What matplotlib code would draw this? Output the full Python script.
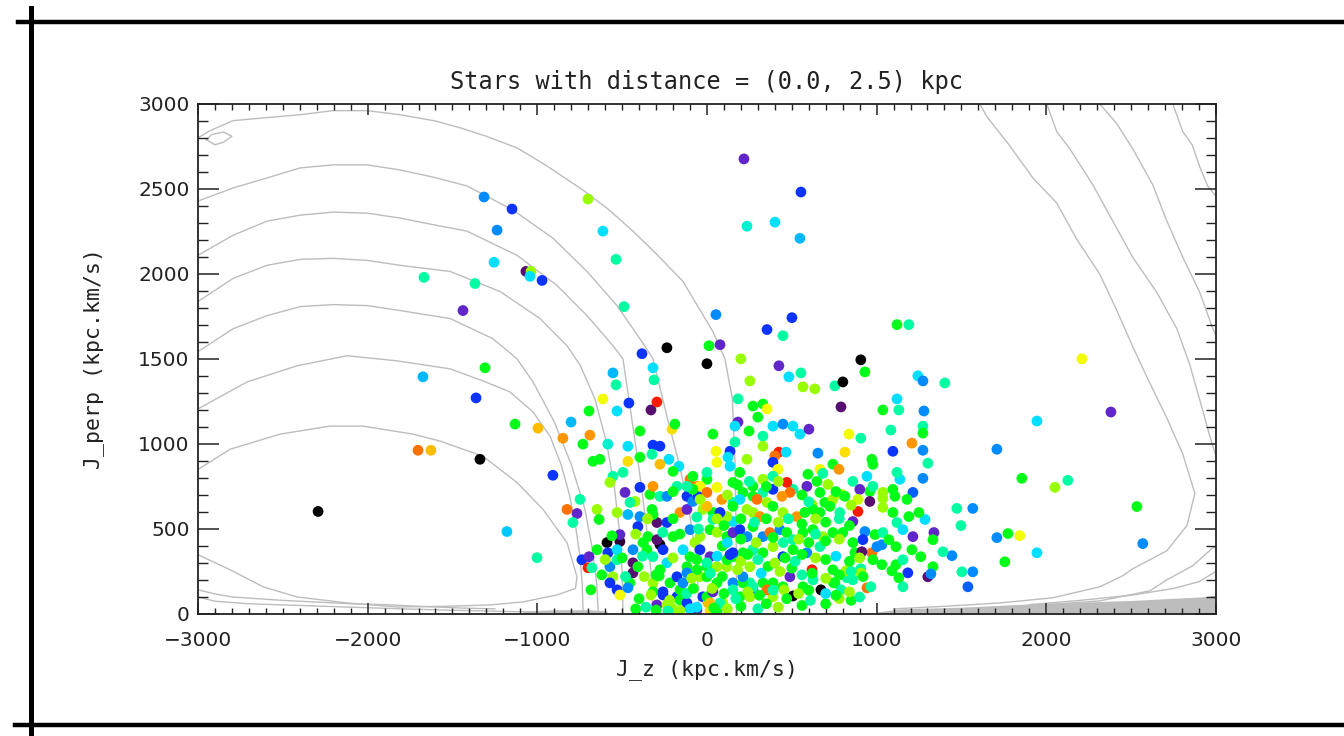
import matplotlib
matplotlib.use("Agg")
import matplotlib.pyplot as plt
from matplotlib.colors import LinearSegmentedColormap
from matplotlib.ticker import MultipleLocator
from matplotlib.lines import Line2D

# ---- stars: J_z, J_perp (kpc km/s) and colour value (0 = black ... 12 = red)
jz = [218, 554, 236, 401, 548, -1314, -1149, -701, -1237, -613, -1255, -536, -1067, -1037, -1043,
      -972, -1668, -1367, -1438, -489, 53, 501, 354, 448, 1120, 1190, 12, 77, 200, 0, 907, 424,
      2210, -236, -383, -318, -554, -312, -536, 483, 554, 253, 566, 636, 754, 801, 931, 1243, 1273,
      1402, 1120, 1037, 1131, 1279, 790, 1273, 1273, 1084, 837, 1208, 907, 1096, 1273, 1302, 1709,
      1273, 1214, 1473, 1567, 1497, 1709, 1444, 1503, 1567, 1538, 1338, 1214, 1332, 1391, 1332,
      1302, 1320, 1184, 1114, 1031, 1285, 972, 978, 860, 960, 901, 960, 890, 1037, 1108, 795, 890,
      860, 931, 919, 990, 872, 972, 913, 943, 825, 672, 507, 619,
      2381, 1945, 1856, 2051, 2127, 2534, 1774, 1844, 2569, 1945, 1756,
      -2292, -1703, -1627, -1338, -1674, -1308, -1361, -1131, -996, -908, -1179, -1002, -849, -801,
      -690, -731, -695, -613, -530, -460, -330, -295, -672, -584, -466, -395, -466, -395, -318, -277,
      -324, -206, -189, -224, -165, -277, -200, -631, -554, -495, -572, -483, -395, -336, -318, -277,
      -236, -177, -424, -454, -748, -825, -766, -790, -648, -636, -530, -466, -395, -407, -324, -295,
      -318, -236, -159, -118, -118, -83, -100, -53, -53, 0, 59, 88, -24, 35, 153, 212, 153, 236, 271,
      -589, -513, -513, -648, -584, -737, -695, -701, -678, -684, -572, -530, -554, -572, -530, -513,
      -436, -436, -407, -454, -466, -530, -436, -377, -348, -277, -295, -354, -318, -259, -236, -277,
      -318, -318, -259, -218, -177, -295, -236, -177, -159, -141, -118, -100, -71, -141, -200, -100,
      -41, 18, -41, 18, 0, -41, -24, 6, 59, 118, 153, 153, 194, 94, 253, 253, 271, 153, 118,
      271, 330, 354, 300, 248, 183, 183, 35, 53, 136, 124, 165, 165, 330, 330, 389, 448, 507, 548,
      601, 424, 400, 466, 389, 418, 654, 813, 742, 778, 666, 595, 589, 648, 683, 713, 666, 695, 742,
      813, 619, 507, 471, 489, 442, 389, 330, 354, 295, 271, 312, 389, 448, 530, 577, 625, 666, 725,
      783, 194, 153, 118, 77, 35, 0, -41, 0, -83, -41, -118, -83, 0, 59, 136, 194, 236, 271, 330,
      389, 153, 194, 236, 271, 330, 371, 430, 471, 507, 566, 625, 683, 742, 801, 666, 589, 507, 448,
      389, 330, 271, 212, 153, 118, 59, 0, -59, -118, -159, -206, -118, -59, 0, 59, 153, 212, 271,
      330, 389, 448, 566, 625, 742, 754, 860, 907, 978, -300, -230, -100, 18, -330, -282, -259,
      1031, 966, 907, 746, 454, 389, 354, 489, 253, 271, 212, 136, 35, 18, 0, 77, 1179, 943, 978,
      1037, 1096, 1137, 1120, 1037, 1096, 1190, 1249, 1120, 1155, 1037, 1072, 1002, 1114, 1208,
      1260, 1155, 1090, 1131, 1155, 790, 820,
      -420, -360, -160, -60, 40, 120, 200, 300, 350, 420, 560, 610, 700, 780, 850, 900,
      -400, -220, -120, -80, 30, 100, 170, 240, 310, 390, 470, 540, 600, 700, 760, 840,
      -620, -480, -370, -300, -90, 20, 90, 180, 320, 360, 430, 500, 560, 620, 700, 780, 850, 920,
      -600, -500, -380, -200, -60, 60, 90, 200, 240, 300, 400, 460, 520, 560, 640, 700, 760, 840, 900,
      -560, -420, -260, -160, -50, 60, 120, 200, 290, 390, 450, 540, 600, 640, 700, 780, 860,
      -350, -200, -60, 60, 100, 200, 280, 350, 420, 480, 560, 640, 700, 780, 840,
      -200, 120, 180, 250, 350, 420, 560, 600, 760, 850]
jperp = [2677, 2482, 2281, 2305, 2210, 2453, 2382, 2441, 2258, 2252, 2069, 2086, 2015, 2015, 1986,
         1962, 1980, 1944, 1785, 1808, 1761, 1743, 1673, 1637, 1702, 1702, 1578, 1584, 1501, 1472,
         1495, 1460, 1501, 1566, 1531, 1448, 1418, 1377, 1348, 1395, 1418, 1371, 1336, 1324, 1342,
         1365, 1424, 1401, 1371, 1359, 1265, 1200, 1200, 1194, 1218, 1105, 1064, 1082, 1058, 1005,
         1034, 957, 963, 887, 969, 798, 715, 621, 621, 520, 449, 343, 248, 248, 160, 479, 455, 437,
         366, 278, 219, 236, 242, 290, 290, 556, 910, 880, 780, 721, 733, 662, 674, 680, 692, 703,
         603, 544, 485, 437, 467, 360, 360, 366, 154, 213, 142, 106, 260,
         1188, 1135, 798, 745, 786, 632, 473, 461, 414, 360, 307,
         603, 963, 963, 910, 1395, 1448, 1271, 1117, 1093, 816, 485, 331, 1034, 1129, 1052, 999,
         1194, 1265, 1194, 1241, 1200, 1247, 898, 999, 987, 1076, 898, 922, 993, 987, 940, 1087,
         1117, 910, 869, 881, 839, 910, 810, 833, 774, 715, 745, 703, 751, 692, 692, 751, 662, 656,
         674, 615, 591, 538, 615, 556, 597, 585, 573, 514, 615, 538, 585, 538, 597, 615, 692, 662,
         792, 751, 692, 792, 745, 674, 615, 597, 774, 715, 656, 615, 692,
         420, 426, 467, 378, 360, 319, 337, 272, 272, 142, 278, 319, 219, 183, 142, 112, 301, 242,
         278, 183, 154, 378, 378, 420, 455, 408, 437, 378, 337, 378, 301, 260, 183, 130, 112, 183,
         219, 53, 53, 101, 142, 183, 278, 337, 420, 378, 455, 496, 455, 496, 378, 337, 278, 219, 101,
         65, 183, 278, 337, 183, 101, 65, 183, 278, 378, 544, 455,
         1223, 1235, 1206, 1158, 1076, 1265, 1129, 1058, 957, 957, 922, 1011, 1105, 1046, 987, 1105,
         1117, 1105, 1058, 1087, 952, 930, 952, 892, 851, 946, 952, 881, 851, 851, 822, 751, 780,
         827, 762, 715, 656, 674, 692, 644, 733, 774, 715, 692, 733, 715, 656, 674, 597, 573, 633,
         597, 573, 597, 615, 597, 633, 597, 674, 633, 573, 597, 556, 633, 751, 715, 733, 674, 751,
         810, 833, 892, 869, 833, 910, 751, 792, 810, 479, 496, 455, 514, 455, 479, 496, 479, 437,
         479, 496, 455, 479, 479, 396, 360, 378, 337, 396, 360, 378, 360, 360, 319, 278, 301, 260,
         242, 82, 35, 65, 23, 101, 12, 142, 183, 142, 183, 101, 160, 160, 201, 260, 183, 201, 266,
         319, 23, 18, 30, 18, 112, 224, 130,
         407, 160, 242, 183, 142, 183, 142, 219, 101, 160, 219, 349, 130, 65, 219, 65, 674, 810, 751,
         715, 733, 792, 833, 627, 597, 573, 597, 538, 496, 479, 437, 396, 396, 378, 337, 319, 254,
         213, 160, 142, 254,
         30, 40, 20, 40, 35, 30, 45, 30, 60, 40, 50, 80, 60, 90, 80, 100,
         90, 80, 120, 150, 150, 120, 90, 130, 110, 140, 90, 120, 140, 120, 110, 130,
         230, 220, 220, 230, 210, 240, 220, 260, 240, 280, 250, 270, 230, 240, 210, 230, 250, 220,
         320, 330, 340, 330, 320, 340, 400, 310, 350, 320, 300, 330, 310, 350, 330, 320, 340, 310, 330,
         460, 470, 480, 470, 500, 480, 420, 440, 420, 450, 420, 440, 420, 470, 430, 440, 420,
         560, 560, 570, 560, 520, 560, 540, 560, 540, 560, 530, 560, 540, 560, 520,
         720, 700, 760, 780, 750, 780, 700, 660, 720, 640]
metal = [2, 3, 5.5, 5, 4.5, 4, 3, 8, 4, 5, 5, 6, 1, 8, 5,
         3, 6, 6, 2, 6, 4, 3, 3, 6, 7, 6, 7, 2, 8, 0, 0, 2,
         9, 0, 3, 5, 4.5, 6, 6, 5, 6, 8, 8, 8, 6, 0, 7, 5, 4,
         6, 5, 7, 6, 4, 1, 6, 7, 6, 9, 10.5, 6, 3, 4, 6, 4,
         4, 3.5, 6, 4, 6, 4, 4, 6, 4, 3.5, 2, 2, 7, 6, 7,
         1, 4, 3, 7, 7, 5, 7, 7, 6, 7, 2, 1, 8.5, 8, 7, 8, 12,
         2, 4, 3, 7, 7, 11, 1, 11, 6, 0, 0, 12,
         2, 5, 7, 8, 6, 7, 7, 9, 4, 5, 7,
         0, 11, 10, 0, 4.5, 7, 3, 7, 10, 3, 4.7, 6, 10.5, 4.5,
         10.5, 7, 7, 9, 5, 3, 1, 12, 7, 5.5, 5, 7, 9.5, 7, 3, 3,
         6, 9.5, 7, 5, 5, 10, 7, 7, 6, 6, 8, 2, 3, 7, 10.5, 6,
         4, 6, 8, 6, 6, 11, 2, 6, 8, 7, 8, 4.5, 4, 3, 7, 1,
         7, 3, 10.5, 2, 3, 4, 11, 11, 3, 7, 9, 10.5, 8, 7, 7, 7, 6, 8, 7,
         0, 0.5, 2, 7, 3, 3, 2, 12, 6, 7, 4, 6, 8, 3, 3, 9,
         1, 1, 7, 7, 4, 5, 4, 7, 7, 0, 1, 7, 6, 3, 5, 7,
         8, 7, 3, 7, 3, 2, 8, 3, 7, 4, 7, 7, 8, 5, 7, 4,
         8, 7, 3, 2, 7, 8, 3, 10, 7, 8, 7, 4, 7, 8, 6, 8, 4, 5, 7,
         7, 7, 9, 7, 7, 6, 2, 7, 9, 3, 5, 6, 5, 6, 8, 5, 4, 5, 5,
         2, 12, 11, 5, 3, 9, 4, 9.5, 7, 10.5, 9, 7, 2, 7, 6, 8, 7, 7, 8,
         7, 8, 6, 12, 11, 10.5, 3, 6, 8, 11, 8, 10.5, 7, 8, 10.5, 7, 7, 7, 7,
         6, 5, 7, 8, 3, 6, 10, 9, 11, 7, 8, 6, 7, 6, 9, 5, 7, 8, 7, 8,
         6, 2, 3, 4, 7, 4, 11, 4, 7, 6, 7, 7, 8, 7, 7, 6, 4, 7, 3,
         8, 7, 6, 7, 3, 7, 8, 6, 7, 4, 7, 8, 3, 2, 7, 7, 6, 7, 4,
         7, 8, 7, 7, 6, 7, 7, 6, 6, 7, 7, 6, 5, 9.5, 8, 7, 3,
         4, 6, 8, 7, 8, 7, 11, 2, 8, 6, 4, 3, 2, 10, 7, 6, 7, 5, 6,
         8, 7, 5, 6, 8, 7, 7, 7, 6, 5, 6, 7, 4, 7, 7,
         7, 6, 7, 7, 6, 6, 8,
         7, 6, 8, 5, 7, 8, 7, 6, 7, 8, 7, 6, 7, 8, 7, 6,
         7, 8, 6, 7, 8, 7, 6, 8, 7, 6, 7, 8, 7, 5, 7, 8,
         7, 6, 8, 7, 8, 6, 7, 8, 5, 7, 8, 7, 6, 7, 8, 7, 6, 7,
         8, 7, 6, 8, 7, 5, 7, 8, 7, 6, 8, 7, 6, 7, 8, 7, 5, 7, 8,
         7, 8, 6, 7, 6, 8, 5, 7, 8, 7, 6, 8, 7, 6, 7, 8, 7,
         8, 7, 6, 8, 7, 7, 6, 7, 8, 6, 7, 8, 7, 6, 7,
         7, 8, 7, 6, 7, 8, 7, 6, 7, 8]

# ---- grey density contours (hand-traced polylines)
c0_jz = [-3000, -2929, -2793, -2593, -2398, -2204, -2003, -1809, -1600, -1455, -1300, -1120, -950,
         -731, -580, -436, -300, -141, 35, 106, 150, 165, 172, 175]
c0_jp = [2801, 2843, 2902, 2920, 2937, 2961, 2961, 2937, 2900, 2860, 2810, 2742, 2640,
         2494, 2380, 2252, 2120, 1956, 1661, 1501, 1265, 900, 500, 0]
c1_jz = [-3000, -2793, -2593, -2398, -2204, -2003, -1809, -1614, -1414, -1143, -907, -707, -530,
         -395, -318, -236, -160, -100, -60, -45]
c1_jp = [2429, 2506, 2565, 2624, 2642, 2642, 2612, 2570, 2518, 2376, 2210, 2015, 1814,
         1619, 1501, 1164, 869, 573, 300, 0]
c2_jz = [-3000, -2793, -2593, -2398, -2204, -2003, -1809, -1614, -1414, -1120, -884, -707, -554,
         -495, -470, -430, -390, -355, -330, -320]
c2_jp = [2110, 2228, 2311, 2346, 2364, 2358, 2329, 2290, 2252, 2110, 1933, 1755, 1578,
         1501, 1330, 1060, 780, 500, 250, 0]
c3_jz = [-3000, -2793, -2593, -2398, -2204, -2003, -1809, -1514, -1220, -984, -825, -748, -660,
         -590, -545, -515, -500, -495]
c3_jp = [1838, 1974, 2051, 2086, 2092, 2080, 2051, 2015, 1897, 1738, 1578, 1465, 1265,
         1000, 740, 480, 250, 0]
c4_jz = [-3000, -2793, -2593, -2398, -2204, -2003, -1809, -1514, -1261, -1120, -1025, -900, -800,
         -720, -675, -650, -640]
c4_jp = [1543, 1678, 1755, 1808, 1820, 1814, 1785, 1738, 1619, 1501, 1365, 1130, 880,
         620, 380, 180, 0]
c5_jz = [-3000, -2711, -2416, -2121, -1827, -1514, -1320, -1161, -1025, -925, -860, -810, -775,
         -750, -735, -730]
c5_jp = [1206, 1365, 1460, 1519, 1489, 1442, 1371, 1306, 1188, 1046, 880, 700, 520,
         350, 180, 0]
c6_jz = [-3000, -2811, -2516, -2222, -2027, -1732, -1573, -1320, -1120, -966, -825, -766, -775,
         -884, -1084, -1279, -1550, -1827, -2121, -2416, -2616, -2811, -3000]
c6_jp = [850, 969, 1058, 1105, 1105, 1058, 1017, 928, 774, 615, 420, 219, 150,
         112, 71, 53, 45, 41, 65, 100, 160, 260, 349]
bl1_jz = [-3000, -2900, -2800, -2650, -2500, -2300, -2100, -1900, -1700, -1450, -1250]
bl1_jp = [142, 118, 100, 90, 80, 70, 60, 55, 45, 35, 30]
bl2_jz = [-3000, -2900, -2700, -2400, -2100, -1800, -1500, -1200, -900, -600]
bl2_jp = [100, 75, 60, 50, 40, 30, 22, 15, 10, 8]
tl_jz = [-2950, -2900, -2850, -2800, -2850, -2920, -2950]
tl_jp = [2790, 2760, 2775, 2810, 2835, 2820, 2790]
r1_jz = [1609, 1650, 1785, 1921, 2062, 2180, 2316, 2416, 2510, 2610, 2711, 2805, 2876, 2829,
         2711, 2510, 2451, 2316, 2039, 1727, 1400, 1100]
r1_jp = [3000, 2925, 2754, 2565, 2417, 2204, 1998, 1785, 1572, 1359, 1152, 940, 709, 520,
         372, 266, 225, 160, 95, 65, 45, 30]
r2_jz = [2003, 2062, 2139, 2275, 2392, 2510, 2652, 2770, 2846, 2905, 2964, 3000]
r2_jp = [3000, 2837, 2736, 2524, 2311, 2098, 1891, 1678, 1466, 1259, 1046, 930]
r3_jz = [2316, 2416, 2510, 2628, 2711, 2805, 2905, 2982, 3000]
r3_jp = [3000, 2884, 2736, 2524, 2311, 2098, 1891, 1678, 1640]
r4_jz = [2746, 2805, 2860, 2905, 2950, 3000]
r4_jp = [3000, 2837, 2760, 2630, 2520, 2458]
r5_jz = [3000, 2982, 2864, 2711, 2610, 2316, 2000, 1700]
r5_jp = [390, 390, 284, 201, 136, 77, 55, 40]
r6_jz = [3000, 2900, 2750, 2500, 2200, 1900]
r6_jp = [250, 190, 150, 110, 80, 55]
strip_jz = [1000, 1137, 1500, 1921, 2510, 2905, 3000]
strip_top = [12, 30, 40, 60, 80, 100, 110]
strip2_jz = [-1084, -900, -700, -589]
strip2_top = [18, 25, 25, 18]

contours = [(c0_jz, c0_jp), (c1_jz, c1_jp), (c2_jz, c2_jp), (c3_jz, c3_jp), (c4_jz, c4_jp),
            (c5_jz, c5_jp), (c6_jz, c6_jp), (bl1_jz, bl1_jp), (bl2_jz, bl2_jp), (tl_jz, tl_jp),
            (r1_jz, r1_jp), (r2_jz, r2_jp), (r3_jz, r3_jp), (r4_jz, r4_jp), (r5_jz, r5_jp),
            (r6_jz, r6_jp)]

plt.rcParams['font.family'] = ['DejaVu Sans']
ink = '#222222'
grey = '#bdbdbd'
mono = 'DejaVu Sans Mono'

idl = LinearSegmentedColormap.from_list('idl', [
    (0, 0, 0), (0.35, 0.05, 0.45), (0.38, 0.15, 0.80), (0.05, 0.2, 1.0), (0.0, 0.55, 1.0),
    (0.0, 0.88, 1.0), (0.0, 1.0, 0.65), (0.0, 1.0, 0.1), (0.6, 1.0, 0.0), (0.95, 1.0, 0.0),
    (1.0, 0.75, 0.0), (1.0, 0.45, 0.0), (1.0, 0.1, 0.0)])

fig = plt.figure(figsize=(13.44, 7.36), dpi=100)
ax = fig.add_axes([0.1473, 0.1658, 0.7574, 0.6929])

for cx, cy in contours:
    ax.plot(cx, cy, color=grey, lw=1.0, zorder=1)
ax.fill_between(strip_jz, 0, strip_top, color=grey, lw=0, zorder=1)
ax.fill_between(strip2_jz, 0, strip2_top, color=grey, lw=0, zorder=1)

ax.scatter(jz, jperp, c=metal, cmap=idl, vmin=0, vmax=12, s=60, linewidths=0, zorder=2)

ax.set_xlim(-3000, 3000)
ax.set_ylim(0, 3000)
ax.xaxis.set_major_locator(MultipleLocator(1000))
ax.xaxis.set_minor_locator(MultipleLocator(100))
ax.yaxis.set_major_locator(MultipleLocator(500))
ax.yaxis.set_minor_locator(MultipleLocator(100))
ax.tick_params(axis='x', which='major', direction='in', length=8, width=1.1, top=True,
               pad=12, labelsize=14.5, colors=ink)
ax.tick_params(axis='x', which='minor', direction='in', length=4, width=1.0, top=True, colors=ink)
ax.tick_params(axis='y', which='major', direction='in', length=15, width=1.1, right=True,
               pad=6, labelsize=14.5, colors=ink)
ax.tick_params(axis='y', which='minor', direction='in', length=7.5, width=1.0, right=True,
               colors=ink)
for sp in ax.spines.values():
    sp.set_linewidth(1.3)
    sp.set_color(ink)

ax.set_xlabel('J_z (kpc.km/s)', fontsize=15.5, color=ink, family=mono)
ax.xaxis.set_label_coords(0.5, -0.088)
ax.set_ylabel('J_perp (kpc.km/s)', fontsize=15.5, color=ink, family=mono)
ax.yaxis.set_label_coords(-0.092, 0.5)
ax.text(0.5, 1.043, 'Stars with distance = (0.0, 2.5) kpc', transform=ax.transAxes,
        ha='center', va='center', fontsize=17, color=ink, family=mono)

# heavy page frame
fig.add_artist(Line2D([18 / 1344, 1], [0.970, 0.970], color='black', lw=3.2))
fig.add_artist(Line2D([15 / 1344, 1], [0.0150, 0.0150], color='black', lw=3.2))
fig.add_artist(Line2D([0.0231, 0.0231], [0, 0.989], color='black', lw=3.6))

fig.savefig('out.png', dpi=100)
